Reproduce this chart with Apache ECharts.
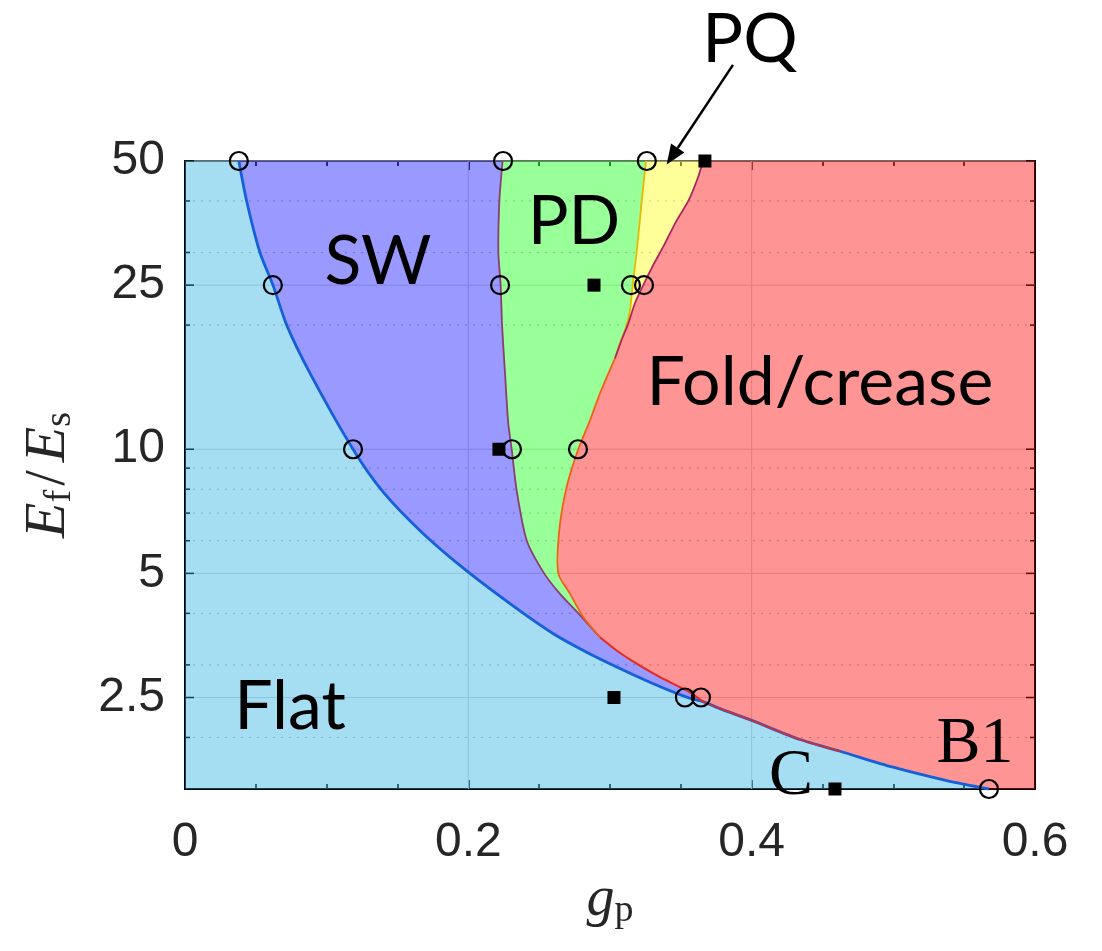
<!DOCTYPE html>
<html><head><meta charset="utf-8">
<script src="https://cdn.jsdelivr.net/npm/echarts@6/dist/echarts.min.js"></script>
<style>html,body{margin:0;padding:0;background:#fff}#c{width:1102px;height:951px}</style>
</head><body><div id="c"></div>
<script>
// ---------- axes / ticks ----------
const xRange = [0, 0.6];
const yRange = [1.5, 50];
const xGridLines = [0.2, 0.4];
const yMajorTicks = [2.5, 5, 10, 25, 50];
const yMinorTicks = [2, 3, 4, 6, 7, 8, 9, 20, 30, 40];

// ---------- phase boundaries [g_p, Ef/Es] ----------
// Flat / SW boundary (top -> junction J1)
const flatUpper = [[0.038,50],[0.0435,40],[0.0529,30],[0.0621,25],[0.0718,20],[0.0882,15.3],[0.1186,10],[0.1398,7.88],[0.168,6.25],[0.1998,5.04],[0.2345,4.1],[0.260,3.57],[0.2835,3.22],[0.307,2.94],[0.3306,2.70],[0.3541,2.505],[0.366,2.44]];
// Flat / Fold boundary (J1 -> B1)
const tail = [[0.366,2.44],[0.3776,2.35],[0.40,2.20],[0.4341,1.977],[0.4624,1.852],[0.4998,1.694],[0.5377,1.572],[0.5675,1.5]];
// SW / PD boundary (top -> junction J2)
const swPd = [[0.2242,50],[0.2219,40],[0.2212,30],[0.2228,25],[0.2238,20],[0.2259,15.26],[0.2282,11.54],[0.2306,10],[0.2341,7.95],[0.2412,6.01],[0.2535,5.0],[0.2647,4.46],[0.2788,3.96],[0.2929,3.50]];
// SW / Fold boundary (J2 -> J1)
const swFold = [[0.2929,3.50],[0.3047,3.25],[0.3188,3.02],[0.3353,2.80],[0.3541,2.60],[0.366,2.44]];
// PD / PQ boundary (top -> tip T)
const pqLeft = [[0.3254,50],[0.3224,40],[0.3188,30],[0.3160,25],[0.3141,21.7],[0.3113,19.8],[0.307,18.1],[0.3035,16.6]];
// PQ / Fold boundary (top -> tip T)
const pqRight = [[0.3656,50],[0.3623,45.8],[0.3553,40],[0.3471,35.9],[0.3376,31.0],[0.3294,27.5],[0.3235,25],[0.3176,22.6],[0.3129,20.2],[0.3082,18.4],[0.3035,16.6]];
// PD / Fold boundary (T -> J2)
const foldLow = [[0.3035,16.6],[0.2929,13.65],[0.2859,11.76],[0.2776,10],[0.2694,8.10],[0.2642,6.36],[0.2635,5.0],[0.2718,4.46],[0.2811,3.92],[0.2929,3.50]];

// ---------- simulation points ----------
const circleX = [0.038,0.2245,0.326,0.062,0.2224,0.3148,0.324,0.1186,0.2308,0.2774,0.3529,0.3642,0.5675];
const circleY = [50,50,50,25,25,25,25,10,10,10,2.5,2.5,1.5];
const squareX = [0.367,0.2887,0.2216,0.3028,0.4588];
const squareY = [50,25,10,2.5,1.5];

// ---------- annotations ----------
const annoText = ['SW','PD','PQ','Fold/crease','Flat','B1','C'];
const annoX = [0.1362,0.2746,0.3988,0.4482,0.0741,0.5576,0.4278];
const annoY = [28.4,35.6,98.3,14.5,2.365,1.923,1.608];
const arrowFrom = [0.3868, 85.5];
const arrowTo = [0.340, 49.0];

const rev = a => a.slice().reverse();
const regions = [
  {name:'Flat', color:'rgba(30,170,225,0.4)', pts:[[0,50], ...flatUpper, ...tail.slice(1), [0,1.5]]},
  {name:'SW', color:'rgba(0,0,255,0.4)', pts:[...flatUpper, ...rev(swFold).slice(1), ...rev(swPd).slice(1)]},
  {name:'PD', color:'rgba(0,255,0,0.4)', pts:[...swPd, ...rev(foldLow).slice(1), ...rev(pqLeft).slice(1)]},
  {name:'PQ', color:'rgba(255,255,0,0.4)', pts:[...pqLeft, ...rev(pqRight).slice(1)]},
  {name:'Fold', color:'rgba(255,0,0,0.42)', pts:[[0.6,50],[0.6,1.5], ...rev(tail), ...rev(swFold).slice(1), ...rev(foldLow).slice(1), ...rev(pqRight).slice(1)]}
];
const lines = [
  {pts:[...flatUpper, ...tail.slice(1)], color:'#1560d8', w:2.8},
  {pts:tail.slice(0,5), color:'#e8281e', w:1.6},
  {pts:swPd, color:'#8a3f70', w:1.8},
  {pts:swFold, color:'#e8281e', w:2},
  {pts:foldLow, color:'#f06010', w:1.8},
  {pts:pqLeft, color:'#e6b800', w:1.8},
  {pts:pqRight, color:'#a8285e', w:1.8}
];

const chart = echarts.init(document.getElementById('c'), null, {renderer:'canvas'});
const yTickData = [...yMajorTicks.map(v=>[0,v,1]), ...yMinorTicks.map(v=>[0,v,0])];
const axisCommon = {
  type:'value', min:xRange[0], max:xRange[1], interval:0.2,
  axisLine:{show:true, onZero:false, lineStyle:{color:'#000', width:2}},
  axisTick:{show:true, inside:true, length:9, lineStyle:{color:'#000', width:1.5}},
  minorTick:{show:true, splitNumber:4, length:5, lineStyle:{color:'#000', width:1.5}},
  splitLine:{show:false}
};
const option = {
  animation:false,
  backgroundColor:'#fff',
  grid:{left:185, top:161, right:67, bottom:162, containLabel:false, outerBoundsMode:'none'},
  xAxis:[
    Object.assign({}, axisCommon, {position:'bottom',
      axisLabel:{show:true, margin:30, fontSize:48, fontFamily:'Liberation Sans', color:'#262626', showMinLabel:true, showMaxLabel:true,
        formatter:v=>String(Math.round(v*10)/10)},
      name:'{g|g}{p|p}', nameLocation:'middle', nameGap:76,
      nameTextStyle:{rich:{
        g:{fontFamily:'Liberation Serif', fontStyle:'italic', fontSize:56, lineHeight:60, color:'#262626'},
        p:{fontFamily:'Liberation Serif', fontSize:38, lineHeight:30, verticalAlign:'bottom', color:'#262626'}}}
    }),
    Object.assign({}, axisCommon, {position:'top', axisLabel:{show:false}})
  ],
  yAxis:[
    {type:'log', logBase:10, min:yRange[0], max:yRange[1], position:'left',
     axisLine:{show:true, onZero:false, lineStyle:{color:'#000', width:2}},
     axisTick:{show:false}, axisLabel:{show:false}, splitLine:{show:false}, minorTick:{show:false},
     name:'{i|E}{s|f}{n|/}{i|E}{s|s}', nameLocation:'middle', nameRotate:90, nameGap:106,
     nameTextStyle:{rich:{
       i:{fontFamily:'Liberation Serif', fontStyle:'italic', fontSize:58, lineHeight:60, color:'#262626'},
       n:{fontFamily:'Liberation Serif', fontSize:56, lineHeight:60, color:'#262626', padding:[0,8,0,4]},
       s:{fontFamily:'Liberation Serif', fontSize:38, lineHeight:30, verticalAlign:'bottom', color:'#262626'}}}
    },
    {type:'log', logBase:10, min:yRange[0], max:yRange[1], position:'right',
     axisLine:{show:true, onZero:false, lineStyle:{color:'#000', width:2}},
     axisTick:{show:false}, axisLabel:{show:false}, splitLine:{show:false}}
  ],
  series:[
    { // y grid lines, ticks and labels
      type:'custom', z:1, clip:false, silent:true, data:yTickData,
      renderItem:(params, api)=>{
        const v = api.value(1), major = api.value(2) === 1;
        const a = api.coord([xRange[0], v]), b = api.coord([xRange[1], v]);
        const tl = major ? 9 : 5;
        const ch = [
          {type:'line', shape:{x1:a[0], y1:a[1], x2:b[0], y2:b[1]},
           style:{stroke: major ? '#d6d6d6' : '#b8b8b8', lineWidth:1, lineDash: major ? null : [2,6]}},
          {type:'line', shape:{x1:a[0], y1:a[1], x2:a[0]+tl, y2:a[1]}, style:{stroke:'#000', lineWidth:1.5}},
          {type:'line', shape:{x1:b[0], y1:b[1], x2:b[0]-tl, y2:b[1]}, style:{stroke:'#000', lineWidth:1.5}}
        ];
        if (major) ch.push({type:'text', style:{text:String(v), x:a[0]-20, y:a[1], align:'right', verticalAlign:'middle',
          fontSize:48, fontFamily:'Liberation Sans', fill:'#262626'}});
        return {type:'group', children:ch};
      }
    },
    { // x grid lines
      type:'custom', z:1, silent:true, data:xGridLines.map(v=>[v, 10]),
      renderItem:(params, api)=>{
        const a = api.coord([api.value(0), yRange[0]]), b = api.coord([api.value(0), yRange[1]]);
        return {type:'line', shape:{x1:a[0], y1:a[1], x2:b[0], y2:b[1]}, style:{stroke:'#d6d6d6', lineWidth:1}};
      }
    },
    { // phase regions
      type:'custom', z:2, silent:true, data:regions.map((r,i)=>[0.3, 10, i]),
      renderItem:(params, api)=>{
        const r = regions[api.value(2)];
        return {type:'polygon', shape:{points:r.pts.map(p=>api.coord(p))}, style:{fill:r.color}};
      }
    },
    { // boundary lines
      type:'custom', z:3, silent:true, data:lines.map((l,i)=>[0.3, 10, i]),
      renderItem:(params, api)=>{
        const l = lines[api.value(2)];
        return {type:'polyline', shape:{points:l.pts.map(p=>api.coord(p)), smooth:0.25}, style:{stroke:l.color, lineWidth:l.w, fill:null, lineJoin:'round'}};
      }
    },
    {
      type:'scatter', z:4, clip:false, silent:true, symbol:'circle', symbolSize:18,
      itemStyle:{color:'rgba(0,0,0,0)', borderColor:'#000', borderWidth:2.2, opacity:1},
      data:circleX.map((x,i)=>[x, circleY[i]])
    },
    {
      type:'scatter', z:4, clip:false, silent:true, symbol:'rect', symbolSize:13,
      itemStyle:{color:'#000', opacity:1},
      data:squareX.map((x,i)=>[x, squareY[i]])
    },
    { // annotations
      type:'custom', z:5, clip:false, silent:true, data:annoText.map((t,i)=>[annoX[i], annoY[i], i]),
      renderItem:(params, api)=>{
        const i = api.value(2);
        const p = api.coord([api.value(0), api.value(1)]);
        const serif = annoText[i] === 'B1' || annoText[i] === 'C';
        return {type:'text', style:{text:annoText[i], x:p[0], y:p[1], align:'center', verticalAlign:'middle',
          fontSize: serif ? 66 : 68, fontFamily: serif ? 'Liberation Serif' : 'Lato', fill:'#000'}};
      }
    },
    { // PQ arrow
      type:'custom', z:5, clip:false, silent:true, data:[[arrowFrom[0], arrowFrom[1], arrowTo[0], arrowTo[1]]],
      renderItem:(params, api)=>{
        const a = api.coord([api.value(0), api.value(1)]);
        const b = api.coord([api.value(2), api.value(3)]);
        const dx = b[0]-a[0], dy = b[1]-a[1], L = Math.hypot(dx, dy);
        const ux = dx/L, uy = dy/L, hl = 20, hw = 8;
        const base = [b[0]-ux*hl, b[1]-uy*hl];
        return {type:'group', children:[
          {type:'line', shape:{x1:a[0], y1:a[1], x2:base[0], y2:base[1]}, style:{stroke:'#000', lineWidth:2.5}},
          {type:'polygon', shape:{points:[b, [base[0]-uy*hw, base[1]+ux*hw], [base[0]+uy*hw, base[1]-ux*hw]]}, style:{fill:'#000'}}
        ]};
      }
    }
  ]
};
chart.setOption(option);
</script></body></html>
